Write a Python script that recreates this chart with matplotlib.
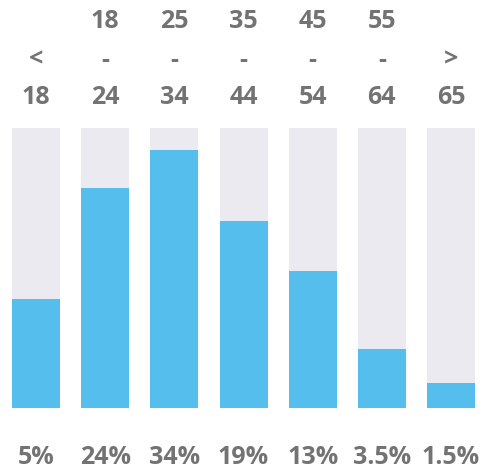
import matplotlib
matplotlib.use("Agg")
import matplotlib.pyplot as plt
import matplotlib.transforms as mtransforms

line1 = ["", "18", "25", "35", "45", "55", ""]
line2 = ["<", "-", "-", "-", "-", "-", ">"]
line3 = ["18", "24", "34", "44", "54", "64", "65"]
shares = ["5%", "24%", "34%", "19%", "13%", "3.5%", "1.5%"]
index_values = [0.389, 0.786, 0.921, 0.668, 0.489, 0.211, 0.089]
full = [1.0] * 7

P = 69.17
fig = plt.figure(figsize=(4.83, 4.70), dpi=100)
ax = fig.add_axes([0, 1 - 408 / 470, 1, 280 / 470])
x = list(range(len(line3)))
ax.bar(x, full, width=48 / P, color="#EBEAF1", linewidth=0)
ax.bar(x, index_values, width=48 / P, color="#55BEEC", linewidth=0)
ax.set_xlim(-36 / P, (483 - 36) / P)
ax.set_ylim(0, 1)
ax.axis("off")

trans = mtransforms.blended_transform_factory(ax.transData, ax.transAxes)
kw = dict(transform=trans, ha="center", va="center", color="#737373",
          fontsize=18, fontweight="bold", family=["Open Sans", "DejaVu Sans"])
for i in x:
    ax.text(i, (408 - 21) / 280, line1[i], **kw)
    ax.text(i, (408 - 60) / 280, line2[i], **kw)
    ax.text(i, (408 - 97) / 280, line3[i], **kw)
    ax.text(i, (408 - 458) / 280, shares[i], **kw)

fig.savefig("out.png", dpi=100)
